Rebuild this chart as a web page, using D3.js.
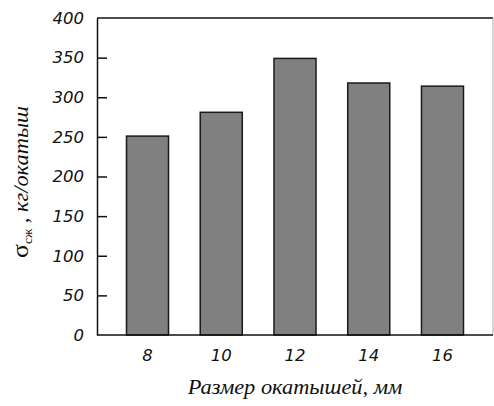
<!DOCTYPE html>
<html>
<head>
<meta charset="utf-8">
<script src="https://cdn.jsdelivr.net/npm/d3@7"></script>
<style>
  html, body { margin: 0; padding: 0; background: #fff; }
  svg { display: block; }
</style>
</head>
<body>
<svg id="chart" width="494" height="406"></svg>
<script>
// Pellet size (mm) and compressive strength (kg per pellet)
const sizes = ["8", "10", "12", "14", "16"];
const strength = [251, 281, 349, 318, 314];
const yTicks = [0, 50, 100, 150, 200, 250, 300, 350, 400];

const W = 494, H = 406;
const margin = { top: 18, right: 1, bottom: 71, left: 97 };
const plotW = W - margin.left - margin.right;
const plotH = H - margin.top - margin.bottom;

const sans = "'DejaVu Sans', sans-serif";
const serif = "'Liberation Serif', serif";

const svg = d3.select("#chart");
const g = svg.append("g").attr("transform", `translate(${margin.left},${margin.top})`);

const x = d3.scaleBand().domain(sizes).range([0, plotW]).paddingInner(0.43).paddingOuter(0.4);
const y = d3.scaleLinear().domain([0, 400]).range([plotH, 0]);

// frame: top black, right grey
g.append("line").attr("x1", 0).attr("x2", plotW).attr("y1", 0).attr("y2", 0)
  .attr("stroke", "#111").attr("stroke-width", 1.5);
g.append("line").attr("x1", plotW).attr("x2", plotW).attr("y1", 0).attr("y2", plotH)
  .attr("stroke", "#aaa").attr("stroke-width", 1);

// bars
g.selectAll("rect.bar").data(sizes).join("rect")
  .attr("class", "bar")
  .attr("x", d => x(d))
  .attr("width", x.bandwidth())
  .attr("y", (d, i) => y(strength[i]))
  .attr("height", (d, i) => plotH - y(strength[i]))
  .attr("fill", "#808080")
  .attr("stroke", "#1a1a1a")
  .attr("stroke-width", 1.5);

// y axis with inward ticks
const yAxis = g.append("g")
  .call(d3.axisLeft(y).tickValues(yTicks).tickSizeInner(-10).tickSizeOuter(0).tickPadding(13));
yAxis.select(".domain").attr("stroke", "#111").attr("stroke-width", 1.5);
yAxis.selectAll(".tick line").attr("stroke", "#111").attr("stroke-width", 1.5)
  .filter(d => d === 0 || d === 400).remove();
yAxis.selectAll(".tick text")
  .attr("font-family", sans)
  .attr("font-style", "italic").attr("font-size", 16.5).attr("fill", "#111");

// x axis
const xAxis = g.append("g").attr("transform", `translate(0,${plotH})`)
  .call(d3.axisBottom(x).tickSize(0).tickPadding(14));
xAxis.select(".domain").attr("stroke", "#111").attr("stroke-width", 1.5)
  .attr("d", `M0,0H${plotW}`);
xAxis.selectAll(".tick text")
  .attr("font-family", sans)
  .attr("font-style", "italic").attr("font-size", 16.5).attr("fill", "#111");

// axis titles (serif italic, widened a little)
svg.append("text")
  .attr("transform", "translate(295,394) scale(1.12,1)")
  .attr("text-anchor", "middle")
  .attr("font-family", serif)
  .attr("font-style", "italic").attr("font-size", 20).attr("fill", "#111")
  .text("Размер окатышей, мм");

const yt = svg.append("text")
  .attr("transform", "translate(28,182) rotate(-90) scale(1.12,1)")
  .attr("text-anchor", "middle")
  .attr("font-family", serif)
  .attr("font-size", 20).attr("fill", "#111");
yt.append("tspan").attr("font-size", 23).text("σ");
yt.append("tspan").attr("font-size", 12).attr("dy", 4).text("сж");
yt.append("tspan").attr("dy", -4).attr("font-style", "italic").text(" , кг/окатыш");
</script>
</body>
</html>
